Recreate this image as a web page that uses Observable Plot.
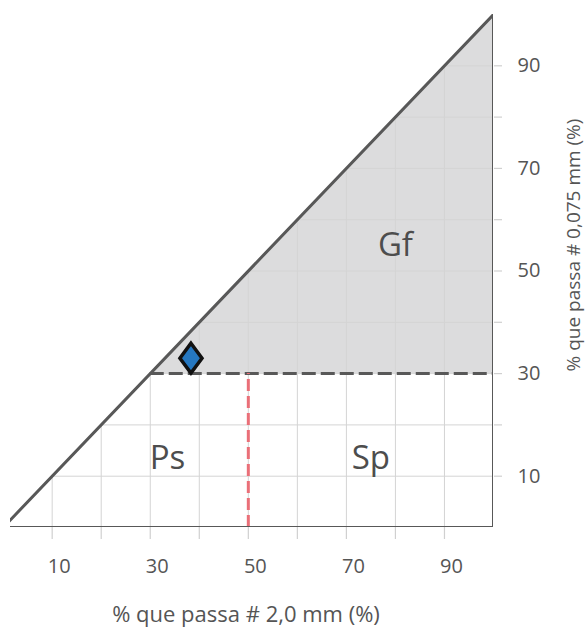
<!DOCTYPE html>
<html>
<head>
<meta charset="utf-8">
<script src="https://cdn.jsdelivr.net/npm/d3@7"></script>
<script src="https://cdn.jsdelivr.net/npm/@observablehq/plot@0.6"></script>
<style>
  html, body { margin: 0; padding: 0; background: #fff; }
  #chart svg { display: block; }
</style>
</head>
<body>
<div id="chart"></div>
<script>
// ---- data ----
const xTickLabels = [10, 30, 50, 70, 90];
const yTickLabels = [10, 30, 50, 70, 90];
const gridValues = [10, 20, 30, 40, 50, 60, 70, 80, 90];
const triangleX = [0, 100, 100, 0];
const triangleY = [0, 100, 0, 0];
const fineLimit = 30;      // % passing 0.075 mm boundary
const gravelLimit = 50;    // % passing 2.0 mm boundary
const zoneNames = ["Ps", "Sp", "Gf"];
const zoneX = [33.5, 75, 80];
const zoneY = [13.5, 13.5, 55];
const sampleX = [38.3];
const sampleY = [33];
const xTitle = ["% que passa # 2,0 mm (%)"];
const yTitle = ["% que passa # 0,075 mm (%)"];

// ---- derived tables ----
const triangle = triangleX.map((x, i) => ({x, y: triangleY[i]}));
const shaded = [{x: fineLimit, lo: fineLimit, hi: fineLimit}, {x: 100, lo: fineLimit, hi: 100}];
const zones = zoneNames.map((name, i) => ({name, x: zoneX[i], y: zoneY[i]}));
const samples = sampleX.map((x, i) => ({x, y: sampleY[i]}));

const tallDiamond = {
  draw(context, size) {
    const r = Math.sqrt(size / Math.PI);
    const w = r * 0.85, h = r * 1.15;
    context.moveTo(0, -h);
    context.lineTo(w, 0);
    context.lineTo(0, h);
    context.lineTo(-w, 0);
    context.closePath();
  }
};

const dark = "#585858";
const font = "'Open Sans', 'DejaVu Sans', sans-serif";

const chart = Plot.plot({
  width: 587,
  height: 629,
  marginLeft: 10,
  marginRight: 94,
  marginTop: 14,
  marginBottom: 102,
  x: {domain: [1.5, 100]},
  y: {domain: [0, 100]},
  style: {fontFamily: font, background: "#fff", overflow: "visible"},
  marks: [
    // shaded Gf region
    Plot.areaY(shaded, {x: "x", y1: "lo", y2: "hi", fill: "#dcdcdd"}),
    // grid clipped to the triangle
    Plot.ruleX(gridValues, {x: d => d, y1: 0, y2: d => d, stroke: "#d4d4d4", strokeWidth: 1}),
    Plot.ruleY(gridValues, {y: d => d, x1: d => d, x2: 100, stroke: "#d4d4d4", strokeWidth: 1}),
    // outside ticks
    Plot.axisX(gridValues, {tickSize: 12, tickFormat: () => "", stroke: "#d0d0d0", strokeWidth: 1.2, label: null}),
    Plot.axisY(gridValues, {anchor: "right", tickSize: 8, tickFormat: () => "", stroke: "#d0d0d0", strokeWidth: 1.2, label: null}),
    // tick labels
    Plot.axisX(xTickLabels, {tickSize: 0, tickPadding: 31, dx: 7, fontSize: 20, fill: "#555", label: null}),
    Plot.axisY(yTickLabels, {anchor: "right", tickSize: 0, tickPadding: 24, fontSize: 20, fill: "#555", label: null}),
    // boundary lines
    Plot.ruleY([fineLimit], {x1: fineLimit, x2: 100, stroke: dark, strokeWidth: 3, strokeDasharray: "14,5"}),
    Plot.ruleX([gravelLimit], {y1: 0, y2: fineLimit, stroke: "#ea6f78", strokeWidth: 3, strokeDasharray: "12,5"}),
    // triangle outline
    Plot.line(triangle, {x: "x", y: "y", stroke: dark, strokeWidth: 3, strokeLinejoin: "miter", clip: true}),
    // zone labels
    Plot.text(zones, {x: "x", y: "y", text: "name", fontSize: 33, fill: "#4d4d4d", fontFamily: font}),
    // sample point
    Plot.dot(samples, {x: "x", y: "y", r: 13, symbol: tallDiamond, fill: "#2577c0", stroke: "#111", strokeWidth: 3.5}),
    // axis titles
    Plot.text(xTitle, {frameAnchor: "bottom", textAnchor: "middle", dy: 94, dx: -6, fontSize: 22, fill: "#555"}),
    Plot.text(yTitle, {frameAnchor: "right", textAnchor: "middle", dx: 80, dy: -26, rotate: -90, fontSize: 19, fill: "#555"})
  ]
});
document.getElementById("chart").appendChild(chart);
</script>
</body>
</html>
